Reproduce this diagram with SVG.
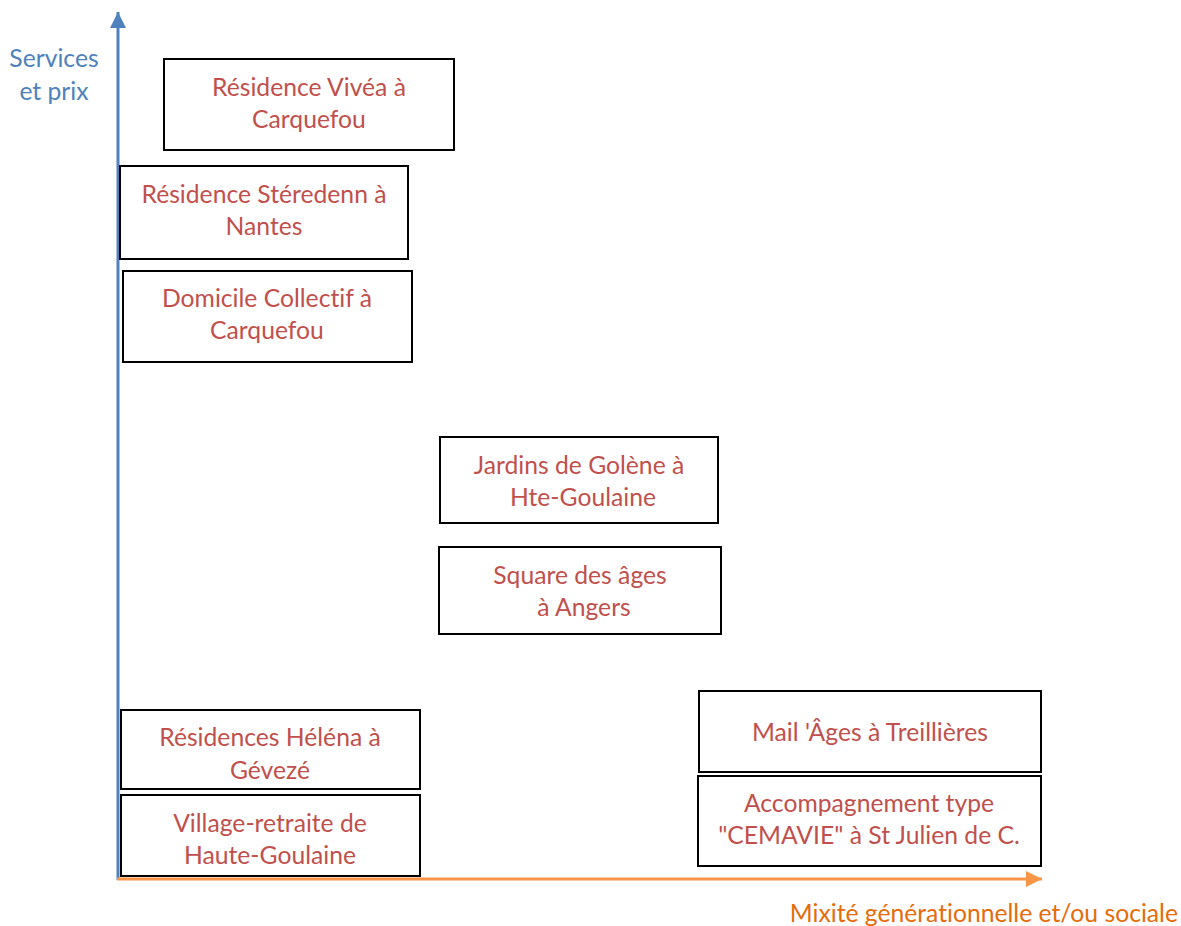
<svg xmlns="http://www.w3.org/2000/svg" width="1181" height="926" viewBox="0 0 1181 926">
<style>
.box{fill:#fff;stroke:#000;stroke-width:2}
.t{font-family:Lato,"Open Sans","DejaVu Sans",sans-serif;font-size:24.7px;fill:#C0504D;text-anchor:middle;font-variant-ligatures:none}
.ax{font-family:Lato,"Open Sans","DejaVu Sans",sans-serif;font-size:24.7px;font-variant-ligatures:none}
</style>
<defs>
<marker id="ab" viewBox="0 0 10 10" refX="10" refY="5" markerWidth="16" markerHeight="16" markerUnits="userSpaceOnUse" orient="auto"><path d="M0,0 L10,5 L0,10 Z" fill="#4F81BD"/></marker>
<marker id="ao" viewBox="0 0 10 10" refX="10" refY="5" markerWidth="16" markerHeight="16" markerUnits="userSpaceOnUse" orient="auto"><path d="M0,0 L10,5 L0,10 Z" fill="#F79646"/></marker>
</defs>
<rect width="1181" height="926" fill="#fff"/>
<g id="connectors">
<line x1="118" y1="880" x2="118" y2="12" stroke="#4F81BD" stroke-width="3" marker-end="url(#ab)"/>
<line x1="117" y1="879" x2="1042" y2="879" stroke="#F79646" stroke-width="3" marker-end="url(#ao)"/>
</g>
<g id="axis-y-label"><text class="ax" fill="#4F81BD" text-anchor="middle"><tspan x="54" y="67">Services</tspan><tspan x="54" y="100">et prix</tspan></text></g>
<g id="axis-x-label"><text class="ax" fill="#E46C0A" x="1178" y="922" text-anchor="end">Mixité générationnelle et/ou sociale</text></g>
<g id="n1"><rect class="box" x="164" y="59" width="290" height="91"/><text class="t"><tspan x="309" y="96">Résidence Vivéa à</tspan><tspan x="309" y="128">Carquefou</tspan></text></g>
<g id="n2"><rect class="box" x="120" y="166" width="288" height="93"/><text class="t"><tspan x="264" y="203">Résidence Stéredenn à</tspan><tspan x="264" y="235">Nantes</tspan></text></g>
<g id="n3"><rect class="box" x="123" y="271" width="289" height="91"/><text class="t"><tspan x="267" y="307">Domicile Collectif à</tspan><tspan x="267" y="339">Carquefou</tspan></text></g>
<g id="n4"><rect class="box" x="440" y="437" width="278" height="86"/><text class="t"><tspan x="579" y="474">Jardins de Golène à</tspan><tspan x="583" y="506">Hte-Goulaine</tspan></text></g>
<g id="n5"><rect class="box" x="439" y="547" width="282" height="87"/><text class="t"><tspan x="580" y="584">Square des âges</tspan><tspan x="584" y="616">à Angers</tspan></text></g>
<g id="n6"><rect class="box" x="121" y="710" width="299" height="79"/><text class="t"><tspan x="270" y="746">Résidences Héléna à</tspan><tspan x="270" y="779">Gévezé</tspan></text></g>
<g id="n7"><rect class="box" x="121" y="795" width="299" height="81"/><text class="t"><tspan x="270" y="832">Village-retraite de</tspan><tspan x="270" y="864">Haute-Goulaine</tspan></text></g>
<g id="n8"><rect class="box" x="699" y="691" width="342" height="81"/><text class="t"><tspan x="870" y="741">Mail 'Âges à Treillières</tspan></text></g>
<g id="n9"><rect class="box" x="698" y="776" width="343" height="90"/><text class="t"><tspan x="869" y="812">Accompagnement type</tspan><tspan x="869" y="844">"CEMAVIE" à St Julien de C.</tspan></text></g>
</svg>
